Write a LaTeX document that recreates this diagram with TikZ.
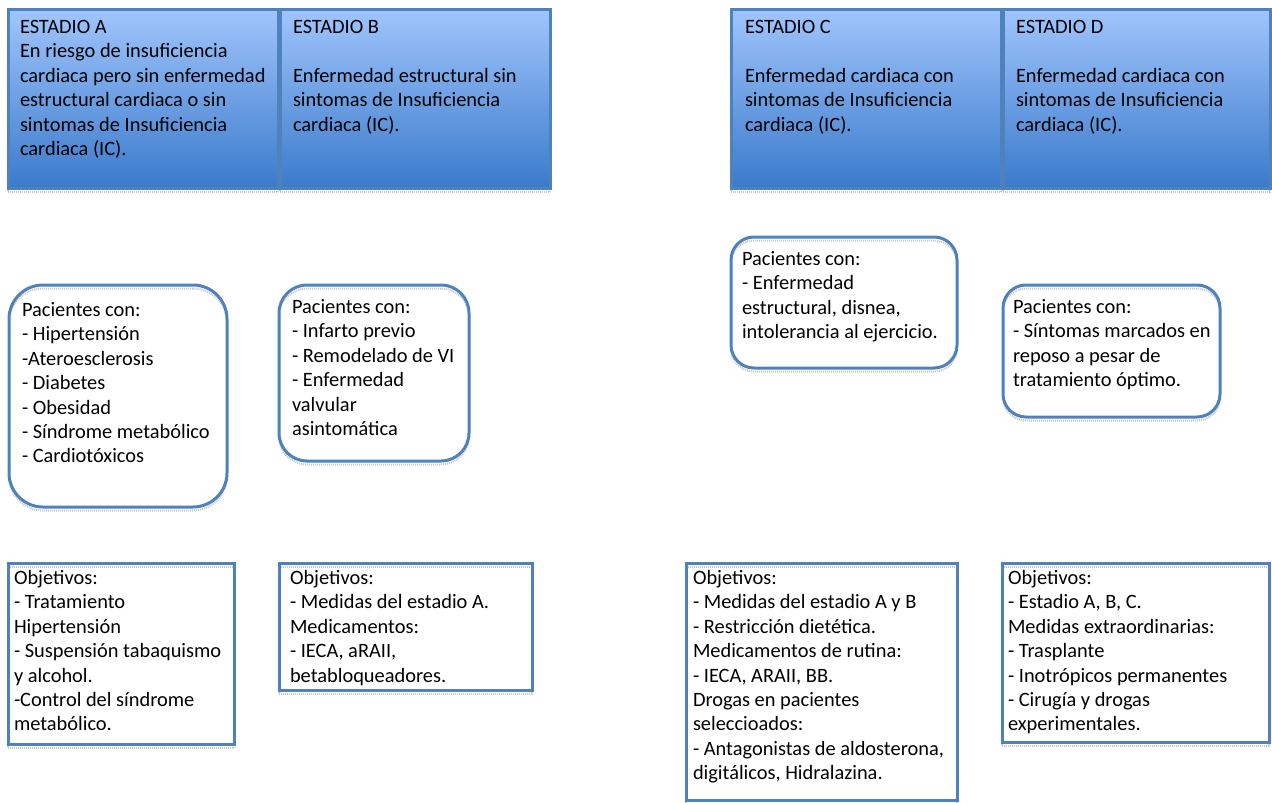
\documentclass[tikz,border=0pt]{standalone}
\usepackage{fontspec}
\setmainfont{Carlito}
\usetikzlibrary{shadows}
\definecolor{bordblue}{RGB}{79,129,189}
\definecolor{hdtop}{RGB}{160,197,252}
\definecolor{hdbot}{RGB}{58,122,203}
\begin{document}
\begin{tikzpicture}[x=1pt,y=-1pt,
  box/.style={draw=bordblue, line width=3pt, inner sep=0pt, outer sep=0pt, anchor=north west,
    general shadow={shadow xshift=0pt, shadow yshift=-3.5pt, draw=gray!45, line width=2pt, dash pattern=on 1pt off 1pt}},
  hdr/.style={box, top color=hdtop, bottom color=hdbot, minimum height=179pt},
  rbox/.style={box},
  obox/.style={box},
  txt/.style={inner sep=0pt, outer sep=0pt, anchor=north west, align=left, font=\fontsize{20.4}{24.4}\selectfont}]
\useasboundingbox (0,0) rectangle (1272,803);

% header boxes
\node[hdr, minimum width=270pt] (hA) at (8,9) {};
\node[hdr, minimum width=270pt] (hB) at (280,9) {};
\node[hdr, minimum width=270pt] (hC) at (731,9) {};
\node[hdr, minimum width=267pt] (hD) at (1003,9) {};

\node[txt] (thA) at (20,16.4) {\strut ESTADIO A\\En riesgo de insuficiencia\\cardiaca pero sin enfermedad\\estructural cardiaca o sin\\sintomas de Insuficiencia\\cardiaca (IC).};
\node[txt] (thB) at (293,16.4) {\strut ESTADIO B\\~\\Enfermedad estructural sin\\sintomas de Insuficiencia\\cardiaca (IC).};
\node[txt] (thC) at (745,16.4) {\strut ESTADIO C\\~\\Enfermedad cardiaca con\\sintomas de Insuficiencia\\cardiaca (IC).};
\node[txt] (thD) at (1016,16.4) {\strut ESTADIO D\\~\\Enfermedad cardiaca con\\sintomas de Insuficiencia\\cardiaca (IC).};

% rounded boxes
\node[rbox, rounded corners=34pt, minimum width=218pt, minimum height=222pt] (rA) at (9,285) {};
\node[rbox, rounded corners=28pt, minimum width=190pt, minimum height=176pt] (rB) at (279,285) {};
\node[rbox, rounded corners=23pt, minimum width=226pt, minimum height=131pt] (rC) at (731,237) {};
\node[rbox, rounded corners=23pt, minimum width=217pt, minimum height=132pt] (rD) at (1003,285) {};

\node[txt] (trA) at (22,299.4) {\strut Pacientes con:\\- Hipertensión\\-Ateroesclerosis\\- Diabetes\\- Obesidad\\- Síndrome metabólico\\- Cardiotóxicos};
\node[txt] (trB) at (292,296.4) {\strut Pacientes con:\\- Infarto previo\\- Remodelado de VI\\- Enfermedad\\valvular\\asintomática};
\node[txt] (trC) at (742,248.4) {\strut Pacientes con:\\- Enfermedad\\estructural, disnea,\\intolerancia al ejercicio.};
\node[txt] (trD) at (1013,296.4) {\strut Pacientes con:\\- Síntomas marcados en\\reposo a pesar de\\tratamiento óptimo.};

% objective boxes
\node[obox, minimum width=226pt, minimum height=181pt] (oA) at (8,563) {};
\node[obox, minimum width=253pt, minimum height=127pt] (oB) at (279,563) {};
\node[obox, minimum width=271pt, minimum height=237pt] (oC) at (686,563) {};
\node[obox, minimum width=267pt, minimum height=179pt] (oD) at (1002,563) {};

\node[txt] (toA) at (14,567.4) {\strut Objetivos:\\- Tratamiento\\Hipertensión\\- Suspensión tabaquismo\\y alcohol.\\-Control del síndrome\\metabólico.};
\node[txt] (toB) at (290,567.4) {\strut Objetivos:\\- Medidas del estadio A.\\Medicamentos:\\- IECA, aRAII,\\betabloqueadores.};
\node[txt] (toC) at (693,567.4) {\strut Objetivos:\\- Medidas del estadio A y B\\- Restricción dietética.\\Medicamentos de rutina:\\- IECA, ARAII, BB.\\Drogas en pacientes\\seleccioados:\\- Antagonistas de aldosterona,\\digitálicos, Hidralazina.};
\node[txt] (toD) at (1008,567.4) {\strut Objetivos:\\- Estadio A, B, C.\\Medidas extraordinarias:\\- Trasplante\\- Inotrópicos permanentes\\- Cirugía y drogas\\experimentales.};
\end{tikzpicture}
\end{document}
